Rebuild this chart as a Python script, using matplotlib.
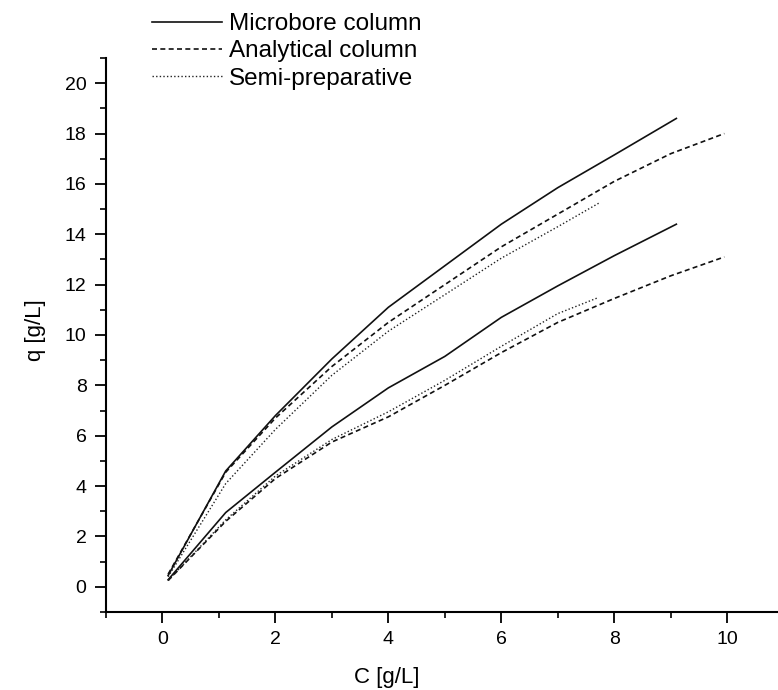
import matplotlib.pyplot as plt
from matplotlib.ticker import MultipleLocator

plt.rcParams['font.family'] = ['Liberation Sans', 'DejaVu Sans']

# upper group of isotherms
micro_up_c = [0.1, 1.12, 2, 3, 4, 5, 6, 7, 8, 9.1]
micro_up_q = [0.45, 4.6, 6.8, 9.05, 11.1, 12.75, 14.4, 15.85, 17.15, 18.6]
anal_up_c = [0.1, 1.12, 2, 3, 4, 5, 6, 7, 8, 9, 9.95]
anal_up_q = [0.5, 4.55, 6.7, 8.75, 10.5, 12.0, 13.5, 14.8, 16.1, 17.2, 18.0]
semi_up_c = [0.1, 1.12, 2, 3, 4, 5, 6, 7, 7.73]
semi_up_q = [0.4, 4.1, 6.25, 8.4, 10.15, 11.6, 13.05, 14.3, 15.24]

# lower group of isotherms
micro_lo_c = [0.1, 1.12, 2, 3, 4, 5, 6, 7, 8, 9.1]
micro_lo_q = [0.28, 2.95, 4.55, 6.35, 7.9, 9.15, 10.7, 11.95, 13.15, 14.4]
anal_lo_c = [0.1, 1.12, 2, 3, 4, 5, 6, 7, 8, 9, 9.95]
anal_lo_q = [0.25, 2.6, 4.3, 5.75, 6.75, 8.0, 9.3, 10.5, 11.45, 12.35, 13.1]
semi_lo_c = [0.1, 1.12, 2, 3, 4, 5, 6, 7, 7.7]
semi_lo_q = [0.25, 2.66, 4.4, 5.85, 6.95, 8.2, 9.55, 10.85, 11.47]

fig = plt.figure(figsize=(7.78, 6.9), dpi=100)
ax = fig.add_axes([106 / 778, 1 - 612 / 690, 1 - 106 / 778, (612 - 58) / 690])

solid = dict(color='#111111', lw=1.2, linestyle='-')
dashed = dict(color='#111111', lw=1.2, linestyle=(0, (3, 2)))
dotted = dict(color='#222222', lw=1.0, linestyle=(0, (1, 1.6)))

l1, = ax.plot(micro_up_c, micro_up_q, **solid)
l2, = ax.plot(anal_up_c, anal_up_q, **dashed)
l3, = ax.plot(semi_up_c, semi_up_q, **dotted)
ax.plot(micro_lo_c, micro_lo_q, **solid)
ax.plot(anal_lo_c, anal_lo_q, **dashed)
ax.plot(semi_lo_c, semi_lo_q, **dotted)

ax.set_xlim(-1, 10.9)
ax.set_ylim(-1, 21)
ax.xaxis.set_major_locator(MultipleLocator(2))
ax.xaxis.set_minor_locator(MultipleLocator(1))
ax.yaxis.set_major_locator(MultipleLocator(2))
ax.yaxis.set_minor_locator(MultipleLocator(1))

for s in ['top', 'right']:
    ax.spines[s].set_visible(False)
for s in ['left', 'bottom']:
    ax.spines[s].set_linewidth(1.5)

ax.tick_params(which='major', direction='out', length=8, width=1.3, labelsize=14, pad=6)
ax.tick_params(which='minor', direction='out', length=4, width=1.2)

ax.set_xlabel('C [g/L]', fontsize=16)
ax.set_ylabel('q [g/L]', fontsize=16)
ax.xaxis.set_label_coords(0.418, -0.1)
ax.yaxis.set_label_coords(-0.09, 0.509)

fig.legend([l1, l2, l3], ['Microbore column', 'Analytical column', 'Semi-preparative'],
           loc='upper left', bbox_to_anchor=(152 / 778, 1 - 13 / 690),
           frameon=False, fontsize=17.5, handlelength=2.9, handletextpad=0.25,
           labelspacing=0.22, borderpad=0, borderaxespad=0)

fig.savefig('out.png', dpi=100)
